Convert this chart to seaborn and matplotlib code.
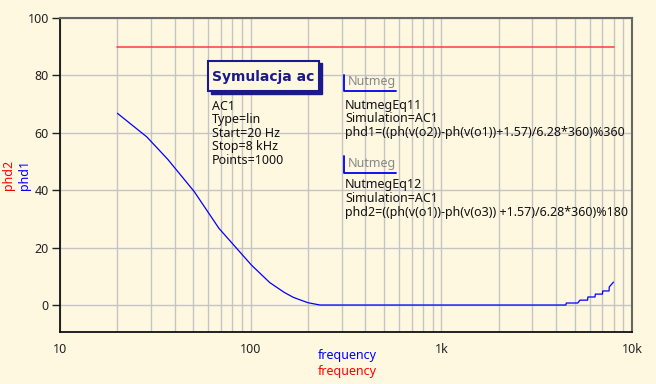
import numpy as np
import pandas as pd
import matplotlib
matplotlib.use("Agg")
import matplotlib.pyplot as plt
import seaborn as sns
from matplotlib.patches import Rectangle
from matplotlib.lines import Line2D
from matplotlib.ticker import FixedLocator, LogLocator, NullFormatter

# phd1 curve (frequency in Hz, phase in degrees)
freq1 = [20, 28.5, 36.7, 50.6, 68.2, 101, 126, 150, 167, 185, 200, 231,
         1000, 4500, 4520, 5200, 5330, 5850, 5870, 6400, 6420, 7000, 7020,
         7580, 7600, 8000]
phd1 = [66.8, 58.6, 50.8, 39.5, 26.7, 13.9, 7.8, 4.4, 2.7, 1.6, 0.8, 0.0,
        0.0, 0.0, 0.7, 0.7, 1.7, 1.7, 2.8, 2.8, 3.8, 3.8, 4.9, 4.9, 6.3, 8.0]

# phd2 is flat at 90 across the sweep
freq2 = [20, 8000]
phd2 = [90, 90]

sim_lines = ["AC1", "Type=lin", "Start=20 Hz", "Stop=8 kHz", "Points=1000"]
eq1_lines = ["NutmegEq11", "Simulation=AC1",
             "phd1=((ph(v(o2))-ph(v(o1))+1.57)/6.28*360)%360"]
eq2_lines = ["NutmegEq12", "Simulation=AC1",
             "phd2=((ph(v(o1))-ph(v(o3)) +1.57)/6.28*360)%180"]

bg = "#fff8e1"
sns.set_theme(style="white", rc={"figure.facecolor": bg, "axes.facecolor": bg})
plt.rcParams["font.family"] = ["Noto Sans", "DejaVu Sans"]

W, H = 656, 384
fig = plt.figure(figsize=(W / 100, H / 100), dpi=100)
ax = fig.add_axes([60 / W, 1 - 332 / H, 572 / W, 314 / H])

df1 = pd.DataFrame({"frequency": freq1, "phd1": phd1})
df2 = pd.DataFrame({"frequency": freq2, "phd2": phd2})
sns.lineplot(data=df1, x="frequency", y="phd1", color="#0000ff", lw=0.9, ax=ax)
sns.lineplot(data=df2, x="frequency", y="phd2", color="#ff3b3b", lw=1.1, ax=ax)

ax.set_xscale("log")
ax.set_xlim(10, 10000)
ax.set_ylim(-9.4, 100)
ax.xaxis.set_major_locator(FixedLocator([10, 100, 1000, 10000]))
ax.set_xticklabels(["10", "100", "1k", "10k"])
ax.xaxis.set_minor_locator(LogLocator(base=10, subs=np.arange(2, 10)))
ax.xaxis.set_minor_formatter(NullFormatter())
ax.set_yticks([0, 20, 40, 60, 80, 100])

ax.grid(True, which="both", axis="x", color="#c4c4c4", lw=1)
ax.grid(True, which="major", axis="y", color="#c4c4c4", lw=1)
ax.tick_params(axis="y", which="major", left=True, length=6, width=1,
               color="#222222", labelsize=9, labelcolor="#222222", pad=2)
ax.tick_params(axis="x", which="both", bottom=False, labelsize=9,
               labelcolor="#222222", pad=2)
for side in ["left", "bottom"]:
    ax.spines[side].set_color("#111111")
    ax.spines[side].set_linewidth(1.3)
for side in ["top", "right"]:
    ax.spines[side].set_color("#666666")
    ax.spines[side].set_linewidth(1.5)
ax.set_xlabel("")
ax.set_ylabel("")

# axis labels in two colours
fig.text(347 / W, 1 - 356 / H, "frequency", color="#0000ff", fontsize=9,
         ha="center", va="center")
fig.text(347 / W, 1 - 372 / H, "frequency", color="#ff0000", fontsize=9,
         ha="center", va="center")
fig.text(24 / W, 1 - 175 / H, "phd1", color="#0000ff", fontsize=9,
         ha="center", va="center", rotation=90)
fig.text(9 / W, 1 - 175 / H, "phd2", color="#ff0000", fontsize=9,
         ha="center", va="center", rotation=90)


def px(x, y):
    return x / W, 1 - y / H


# "Symulacja ac" box with shadow
navy = "#1a1a8c"
fig.patches.append(Rectangle(px(211, 94), 111 / W, 31 / H, transform=fig.transFigure,
                             facecolor=navy, edgecolor=navy, zorder=5))
fig.patches.append(Rectangle(px(208, 91), 111 / W, 30 / H, transform=fig.transFigure,
                             facecolor=bg, edgecolor=navy, lw=1.5, zorder=6))
fig.text(*px(263, 77), "Symulacja ac", color=navy, fontsize=10,
         fontweight="bold", family=["DejaVu Sans"], ha="center", va="center",
         zorder=7)

for i, s in enumerate(sim_lines):
    fig.text(*px(212, 106 + i * 13.6), s, color="#111111", fontsize=9,
             ha="left", va="center")


def nutmeg(y_top, y_bot, y_label, lines, y0):
    fig.lines.append(Line2D([344.3 / W, 344.3 / W, 395.7 / W],
                            [1 - y_top / H, 1 - y_bot / H, 1 - y_bot / H],
                            transform=fig.transFigure, color="#0000ee", lw=1.3))
    fig.text(*px(348, y_label), "Nutmeg", color="#888888", fontsize=9,
             ha="left", va="center")
    for i, s in enumerate(lines):
        fig.text(*px(345, y0 + i * 13.7), s, color="#111111", fontsize=9,
                 ha="left", va="center")


nutmeg(75, 90.7, 81, eq1_lines, 105)
nutmeg(156, 173.3, 163, eq2_lines, 185)

fig.savefig("out.png", dpi=100, facecolor=bg)
